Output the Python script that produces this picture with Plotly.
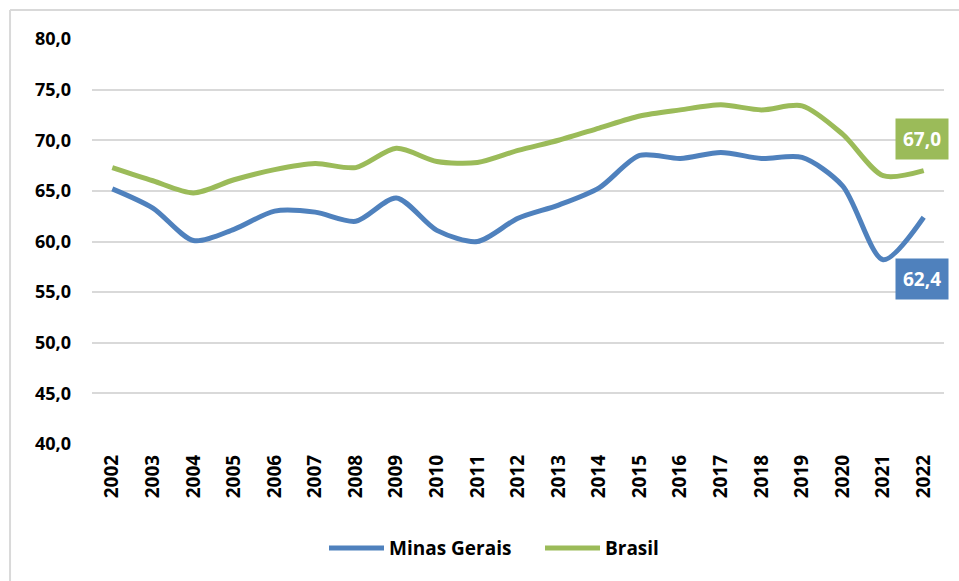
import plotly.graph_objects as go

years = list(range(2002, 2023))
minas_gerais = [65.2, 63.3, 60.1, 61.2, 63.0, 62.9, 62.0, 64.3, 61.1, 60.0, 62.3,
                63.6, 65.3, 68.5, 68.2, 68.8, 68.2, 68.3, 65.5, 58.2, 62.4]
brasil = [67.3, 66.0, 64.8, 66.1, 67.1, 67.7, 67.3, 69.2, 67.9, 67.8, 69.0,
          70.0, 71.2, 72.4, 73.0, 73.5, 73.0, 73.4, 70.6, 66.5, 67.0]
y_ticks = [40, 45, 50, 55, 60, 65, 70, 75, 80]
y_tick_labels = ["40,0", "45,0", "50,0", "55,0", "60,0", "65,0", "70,0", "75,0", "80,0"]

BLUE = "#4F81BD"
GREEN = "#9BBB59"
FONT = "Open Sans"

fig = go.Figure()
fig.add_trace(go.Scatter(x=years, y=minas_gerais, name="Minas Gerais", mode="lines",
                         line=dict(color=BLUE, width=5, shape="spline", smoothing=0.8)))
fig.add_trace(go.Scatter(x=years, y=brasil, name="Brasil", mode="lines",
                         line=dict(color=GREEN, width=5, shape="spline", smoothing=0.8)))

fig.add_annotation(x=years[-1], y=brasil[-1], text="<b>67,0</b>", showarrow=False,
                   yshift=32, xshift=-2, bgcolor=GREEN, borderpad=7,
                   font=dict(color="white", size=19, family=FONT))
fig.add_annotation(x=years[-1], y=minas_gerais[-1], text="<b>62,4</b>", showarrow=False,
                   yshift=-62, xshift=-2, bgcolor=BLUE, borderpad=7,
                   font=dict(color="white", size=19, family=FONT))

# chart-area frame (left and top edges)
fig.add_shape(type="line", xref="paper", yref="paper", x0=-0.0962, x1=1.2, y0=1.0716, y1=1.0716,
              line=dict(color="#D9D9D9", width=2))
fig.add_shape(type="line", xref="paper", yref="paper", x0=-0.0962, x1=-0.0962, y0=-0.4, y1=1.0716,
              line=dict(color="#D9D9D9", width=2))

fig.update_layout(
    width=959, height=581,
    margin=dict(l=92, r=15, t=39, b=137),
    paper_bgcolor="white", plot_bgcolor="white",
    font=dict(family=FONT, color="black"),
    showlegend=True,
    legend=dict(orientation="h", x=0.2723, xanchor="left", y=-0.257, yanchor="middle",
                font=dict(size=19, family=FONT, weight="bold"), itemwidth=55,
                entrywidth=146, entrywidthmode="pixels",
                traceorder="normal"),
    xaxis=dict(range=[2001.5, 2022.5], tickmode="array", tickvals=years,
               ticktext=[str(y) for y in years], tickangle=-90,
               tickfont=dict(size=19, family=FONT, weight="bold"),
               showgrid=False, zeroline=False, showline=False, ticks="",
               ticklabelstandoff=6),
    yaxis=dict(range=[40, 80], tickmode="array", tickvals=y_ticks, ticktext=y_tick_labels,
               tickfont=dict(size=18, family=FONT, weight="bold"),
               showgrid=True, gridcolor="#D9D9D9", gridwidth=2, zeroline=False,
               showline=False, ticks="", ticklabelstandoff=20),
)

fig.write_html("out.html", config={"displayModeBar": False},
               post_script="document.body.style.margin='0';")
